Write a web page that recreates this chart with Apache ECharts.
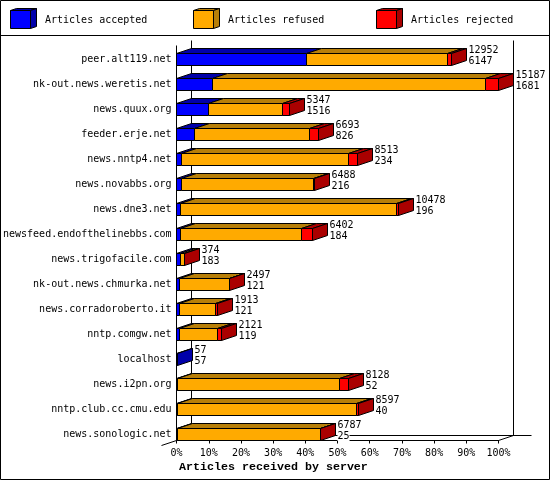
<!DOCTYPE html>
<html><head><meta charset="utf-8">
<script src="https://cdn.jsdelivr.net/npm/echarts@6/dist/echarts.min.js"></script>
<style>html,body{margin:0;padding:0;background:#fff}#c{width:550px;height:480px}</style>
</head><body><div id="c"></div>
<script>
var servers = ["peer.alt119.net","nk-out.news.weretis.net","news.quux.org","feeder.erje.net","news.nntp4.net","news.novabbs.org","news.dne3.net","newsfeed.endofthelinebbs.com","news.trigofacile.com","nk-out.news.chmurka.net","news.corradoroberto.it","nntp.comgw.net","localhost","news.i2pn.org","nntp.club.cc.cmu.edu","news.sonologic.net"];
var totals = [12952,15187,5347,6693,8513,6488,10478,6402,374,2497,1913,2121,57,8128,8597,6787];
var accepted = [6147,1681,1516,826,234,216,196,184,183,121,121,119,57,52,40,25];
var rejected = [165,600,346,425,425,15,110,520,20,5,80,170,0,440,130,15];
var tickLabels = ["0%","10%","20%","30%","40%","50%","60%","70%","80%","90%","100%"];
var legendNames = ["Articles accepted","Articles refused","Articles rejected"];
var axisTitle = "Articles received by server";
var faceColors = ["#0000ff","#ffaa00","#ff0000"];
var darkColors = ["#0000aa","#b87f08","#aa0000"];

var DX = 15, DY = 5, HALF = 6;
var FONT = '10px "DejaVu Sans Mono", monospace';
var maxTotal = Math.max.apply(null, totals);
var pct = function (v) { return v / maxTotal * 100; };
var snap = function (v) { return Math.floor(v) + 0.5; };
var rows = servers.map(function (s, i) {
  return [s, accepted[i], totals[i] - accepted[i] - rejected[i], rejected[i], totals[i]];
});

function poly(pts, fill) {
  return {type:'polygon', shape:{points:pts}, style:{fill:fill, stroke:'#000', lineWidth:1}};
}
function renderBar(params, api) {
  var i = params.dataIndex;
  var yc = snap(api.coord([0, i])[1]);
  var vals = [api.value(1), api.value(2), api.value(3)];
  var top = yc - HALF, bot = yc + HALF;
  var kids = [], sum = 0, tops = [], fronts = [], last = 0, endX = 0;
  vals.forEach(function (v, k) {
    if (v <= 0) return;
    var x1 = snap(api.coord([pct(sum), i])[0]);
    sum += v;
    var x2 = snap(api.coord([pct(sum), i])[0]);
    tops.push(poly([[x1,top],[x2,top],[x2+DX,top-DY],[x1+DX,top-DY]], darkColors[k]));
    fronts.push(poly([[x1,top],[x2,top],[x2,bot],[x1,bot]], faceColors[k]));
    last = k; endX = x2;
  });
  kids = kids.concat(tops);
  kids.push(poly([[endX,top],[endX+DX,top-DY],[endX+DX,bot-DY],[endX,bot]], darkColors[last]));
  kids = kids.concat(fronts);
  kids.push({type:'text', style:{text:String(api.value(4)), x:endX+DX+2, y:yc-9.5, font:FONT, fill:'#000', align:'left', verticalAlign:'middle', backgroundColor:'#fff'}});
  kids.push({type:'text', style:{text:String(api.value(1)), x:endX+DX+2, y:yc+1.5, font:FONT, fill:'#000', align:'left', verticalAlign:'middle', backgroundColor:'#fff'}});
  return {type:'group', children:kids};
}
function renderFrame(params, api) {
  var p0 = api.coord([0, 0]), p1 = api.coord([100, servers.length - 1]);
  var x0 = snap(p0[0]), x1 = snap(p1[0]), floor = snap(p1[1]) + 6, ceil = snap(p0[1]) - 14;
  var line = function (a, b, c, d) { return {type:'line', shape:{x1:a,y1:b,x2:c,y2:d}, style:{stroke:'#000', lineWidth:1}}; };
  return {type:'group', children:[
    line(x0, ceil, x0, floor),
    line(x0+DX, ceil-5, x0+DX, floor-DY),
    line(x1+DX, ceil-5, x1+DX, floor-DY),
    line(x0+DX, floor-DY, x1+33, floor-DY),
    line(x1, floor, x1+DX, floor-DY),
    line(x0, floor, x0-DX, floor+DY)
  ]};
}
function cube(x, k) {
  var l=x, r=x+20, t=10.5, b=28.5, dx=6, dy=2;
  var st = function (f) { return {fill:f, stroke:'#000', lineWidth:1}; };
  return [
    {type:'polygon', shape:{points:[[l,t],[r,t],[r+dx,t-dy],[l+dx,t-dy]]}, style:st(darkColors[k])},
    {type:'polygon', shape:{points:[[r,t],[r+dx,t-dy],[r+dx,b-dy],[r,b]]}, style:st(darkColors[k])},
    {type:'rect', shape:{x:l,y:t,width:r-l,height:b-t}, style:st(faceColors[k])},
    {type:'text', style:{text:legendNames[k], x:x+34.5, y:20, font:FONT, fill:'#000', verticalAlign:'middle'}}
  ];
}
var graphics = [
  {type:'rect', shape:{x:0.5,y:0.5,width:549,height:479}, style:{fill:'none', stroke:'#000', lineWidth:1}},
  {type:'line', shape:{x1:0,y1:35.5,x2:550,y2:35.5}, style:{stroke:'#000', lineWidth:1}}
].concat(cube(10.5,0), cube(193.5,1), cube(376.5,2));

var chart = echarts.init(document.getElementById('c'), null, {renderer:'canvas', width:550, height:480});
chart.setOption({
  animation:false,
  backgroundColor:'#fff',
  title:{text:axisTitle, left:179, top:461, padding:0, textStyle:{fontFamily:'"Liberation Mono", monospace', fontWeight:'bold', fontSize:11.67, color:'#000', lineHeight:13}},
  grid:{left:176.5, width:322, top:47, height:400, containLabel:false},
  xAxis:{type:'value', min:0, max:100, interval:10, offset:-6.5,
    axisLine:{show:true, lineStyle:{color:'#000', width:1}},
    axisTick:{show:true, length:3, lineStyle:{color:'#000', width:1}},
    splitLine:{show:false},
    axisLabel:{margin:8, fontFamily:'"DejaVu Sans Mono", monospace', fontSize:10, color:'#000', hideOverlap:false, showMinLabel:true, showMaxLabel:true,
      formatter:function (v) { return tickLabels[Math.round(v/10)]; }}},
  yAxis:{type:'category', inverse:true, data:servers,
    axisLine:{show:false}, axisTick:{show:false}, splitLine:{show:false},
    axisLabel:{margin:5, fontFamily:'"DejaVu Sans Mono", monospace', fontSize:10, color:'#000', interval:0}},
  graphic:{elements:graphics},
  series:[
    {type:'custom', name:'frame', coordinateSystem:'cartesian2d', renderItem:renderFrame, data:[[0,0]], z:1, silent:true},
    {type:'custom', name:'bars', coordinateSystem:'cartesian2d', renderItem:renderBar, data:rows, encode:{y:0, x:4}, z:2, silent:true}
  ]
});
</script></body></html>
